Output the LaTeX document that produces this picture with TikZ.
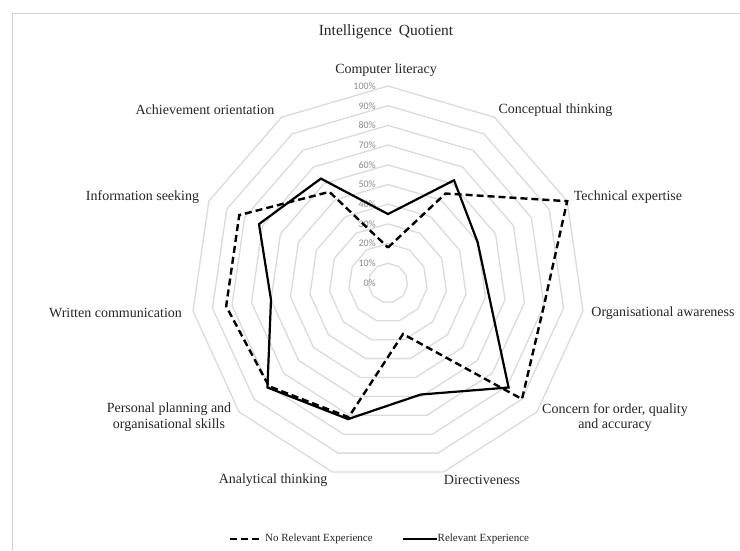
\documentclass[tikz,border=0pt]{standalone}
\usepackage{fontspec}
\setmainfont{Liberation Serif}
\newfontfamily\pctfont{Carlito}
\begin{document}
\begin{tikzpicture}[x=1pt,y=-1pt,
  lbl/.style={font=\fontsize{14}{15.5}\selectfont, text=black!85, align=center, inner sep=0pt},
  pct/.style={font=\pctfont\fontsize{10}{12}\selectfont, text=black!45, anchor=east, inner sep=0pt},
  gridline/.style={draw=black!14, line width=1.3pt},
  relexp/.style={draw=black, line width=2.2pt, line join=miter},
  norel/.style={draw=black, line width=2.4pt, dash pattern=on 7pt off 4pt},
  legtxt/.style={font=\fontsize{11}{13}\selectfont, text=black!85, anchor=west, inner sep=0pt},
]
\useasboundingbox (0,0) rectangle (740,550);
\fill[white] (0,0) rectangle (740,550);
\draw[black!18, line width=1pt] (12,550) -- (12,13) -- (740,13);

\node[font=\fontsize{15.5}{18}\selectfont, text=black!85, inner sep=0pt] (title) at (386,32) {Intelligence\hspace{0.45em}Quotient};

\begin{scope}[shift={(388,283)}, yscale=-1]
  \foreach \l in {1,...,10} {
    \draw[gridline] (90:\l*19.7) \foreach \k in {1,...,10} { -- ({90-\k*360/11}:\l*19.7) } -- cycle;
  }
  \foreach \l in {1,...,10} {
    \node[pct] (p\l) at (-12,\l*19.7) {\l0\%};
  }
  \node[pct] (p0) at (-12,0) {0\%};
  \foreach \v [count=\k from 0] in {35,62,50,52,81,59,72,81,60,72,63} {
    \coordinate (s\k) at ({90-\k*360/11}:{\v*1.97});
  }
  \foreach \v [count=\k from 0] in {18,54,100,80,90,27,71,80,83,83,55} {
    \coordinate (d\k) at ({90-\k*360/11}:{\v*1.97});
  }
\end{scope}

\draw[norel] (d0) -- (d1) -- (d2) -- (d3) -- (d4) -- (d5) -- (d6) -- (d7) -- (d8) -- (d9) -- (d10) -- cycle;
\draw[relexp] (s0) -- (s1) -- (s2) -- (s3) -- (s4) -- (s5) -- (s6) -- (s7) -- (s8) -- (s9) -- (s10) -- cycle;

\node[lbl] (a0) at (386,70) {Computer literacy};
\node[lbl] (a1) at (555.5,110) {Conceptual thinking};
\node[lbl] (a2) at (628,197) {Technical expertise};
\node[lbl] (a3) at (663,313) {Organisational awareness};
\node[lbl] (a4) at (615,417.5) {Concern for order, quality\\and accuracy};
\node[lbl] (a5) at (482,480) {Directiveness};
\node[lbl] (a6) at (273,480) {Analytical thinking};
\node[lbl] (a7) at (169,417) {Personal planning and\\organisational skills};
\node[lbl] (a8) at (115.5,313) {Written communication};
\node[lbl] (a9) at (142.5,197) {Information seeking};
\node[lbl] (a10) at (205,110) {Achievement orientation};

\coordinate (la) at (230,539);
\coordinate (lb) at (261,539);
\draw[norel] (la) -- (lb);
\node[legtxt] (lt1) at (265,539) {No Relevant Experience};
\coordinate (lc) at (403,539);
\coordinate (ld) at (437,539);
\draw[relexp] (lc) -- (ld);
\node[legtxt] (lt2) at (437.5,539) {Relevant Experience};
\end{tikzpicture}
\end{document}
